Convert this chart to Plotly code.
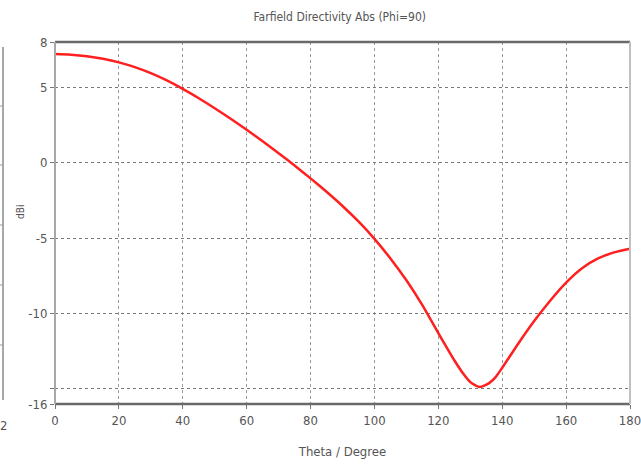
import plotly.graph_objects as go

theta = [0, 5, 10, 15, 20, 25, 30, 35, 40, 45, 50, 55, 60, 65, 70, 75, 80, 85, 90, 95,
         100, 105, 110, 115, 120, 125, 128, 130, 133, 136, 138, 140, 145,
         150, 155, 160, 165, 170, 175, 180]
directivity = [7.2, 7.16, 7.06, 6.89, 6.65, 6.33, 5.93, 5.45, 4.89, 4.27, 3.61, 2.91,
               2.18, 1.42, 0.63, -0.19, -1.04, -1.93, -2.87, -3.9,
               -5.05, -6.35, -7.8, -9.45, -11.3, -13.1, -14.05, -14.55, -14.88,
               -14.6, -14.2, -13.6, -12.0, -10.5, -9.15, -7.95, -7.0, -6.35, -5.95, -5.7]

x_ticks = [0, 20, 40, 60, 80, 100, 120, 140, 160, 180]
y_ticks = [8, 5, 0, -5, -10, -15, -16]
y_text = ["8", "5", "0", "-5", "-10", "", "-16"]

FONT = "Liberation Sans Narrow, DejaVu Sans Condensed, Arial Narrow, sans-serif"
TXT = "#555555"

fig = go.Figure()
fig.add_trace(go.Scatter(x=theta, y=directivity, mode="lines",
                         line=dict(color="#ff1f1f", width=2.5, shape="spline", smoothing=0.6),
                         showlegend=False, hoverinfo="skip"))

fig.update_layout(
    width=641, height=466,
    margin=dict(l=55, r=11, t=42, b=62),
    paper_bgcolor="white", plot_bgcolor="white",
    font=dict(family=FONT, size=13, color=TXT),
    title=dict(text="Farfield Directivity Abs (Phi=90)", x=0.53, xanchor="center",
               y=0.963, yanchor="middle", font=dict(family=FONT, size=12, color=TXT)),
    xaxis=dict(range=[0, 180], tickvals=x_ticks, ticktext=[str(v) for v in x_ticks],
               showgrid=True, gridcolor="#9a9a9a", griddash="dot", gridwidth=1,
               ticks="outside", ticklen=4, tickcolor="#777", showline=False, zeroline=False,
               automargin=False, ticklabeloverflow="allow",
               tickfont=dict(family=FONT, size=13, color=TXT),
               title=dict(text="Theta / Degree", standoff=20,
                          font=dict(family=FONT, size=13, color=TXT))),
    yaxis=dict(range=[-16, 8], tickvals=y_ticks, ticktext=y_text,
               showgrid=True, gridcolor="#7a7a7a", griddash="dot", gridwidth=1,
               ticks="outside", ticklen=4, tickcolor="#777", showline=False, zeroline=False,
               automargin=False,
               tickfont=dict(family=FONT, size=13, color=TXT)),
)

# frame lines
fig.add_shape(type="line", xref="paper", yref="paper", x0=0, x1=1, y0=1, y1=1,
              line=dict(color="#6a6a6a", width=2.5))
fig.add_shape(type="line", xref="paper", yref="paper", x0=0, x1=1, y0=0, y1=0,
              line=dict(color="#6a6a6a", width=2.5))
fig.add_shape(type="line", xref="paper", yref="paper", x0=0, x1=0, y0=0, y1=1,
              line=dict(color="#a8a8a8", width=2))
fig.add_shape(type="line", xref="paper", yref="paper", x0=1, x1=1, y0=0, y1=1,
              line=dict(color="#c0c0c0", width=2))

W, H = 641, 466
pw, ph = W - 55 - 11, H - 42 - 62
def px(xp):
    return (xp - 55) / pw
def py(yp):
    return (H - 62 - yp) / ph

# y-axis title
fig.add_annotation(xref="paper", yref="paper", x=px(20), y=py(212), text="dBi", showarrow=False,
                   textangle=-90, xanchor="center", yanchor="middle",
                   font=dict(family=FONT, size=10, color=TXT))

# partial neighbouring chart at left edge
fig.add_shape(type="line", xref="paper", yref="paper", x0=px(3), x1=px(3), y0=py(47), y1=py(400),
              line=dict(color="#a8a8a8", width=2))
for yy in [106, 165, 225, 285, 345]:
    fig.add_shape(type="line", xref="paper", yref="paper", x0=px(0), x1=px(3), y0=py(yy), y1=py(yy),
                  line=dict(color="#999", width=1))
fig.add_annotation(xref="paper", yref="paper", x=px(3), y=py(425), text="2", showarrow=False,
                   xanchor="center", yanchor="middle", font=dict(family=FONT, size=13, color=TXT))

fig.write_html("out.html")
